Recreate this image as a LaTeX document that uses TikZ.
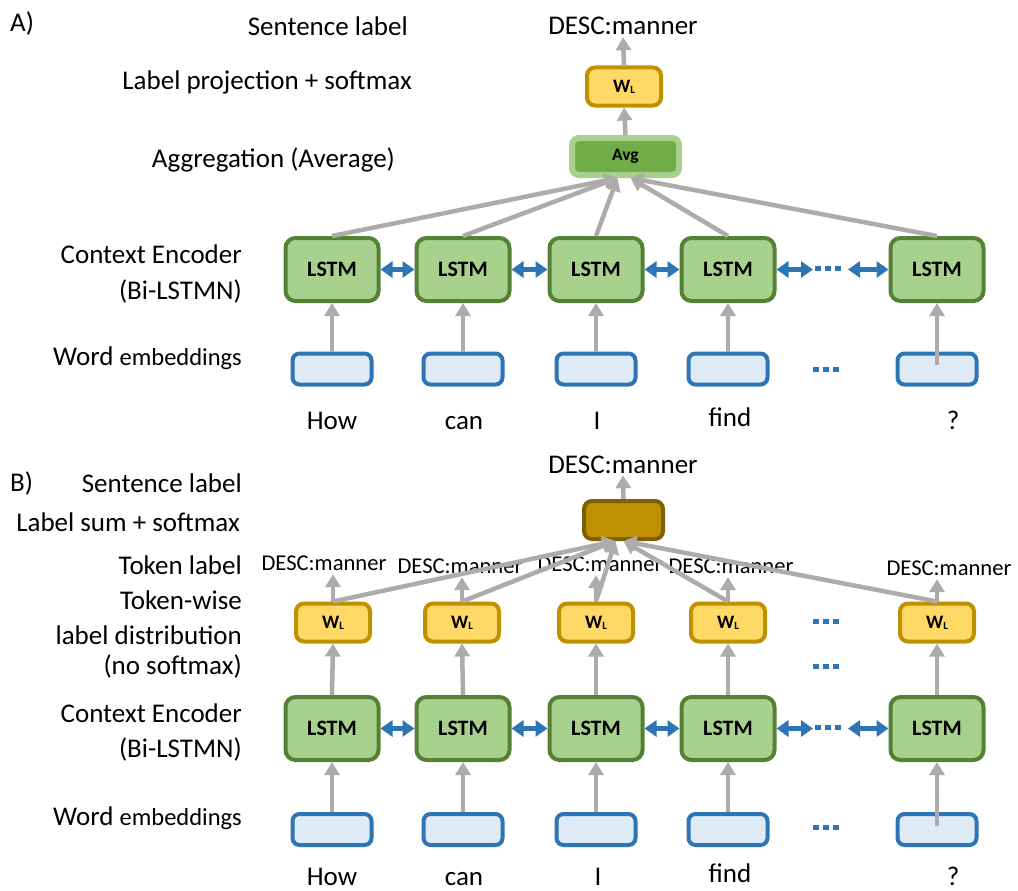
\documentclass[tikz,border=0pt]{standalone}
\usepackage{fontspec}
\setmainfont{Carlito}
\usetikzlibrary{arrows.meta,calc}

\definecolor{lstmfill}{HTML}{A9D18E}
\definecolor{lstmline}{HTML}{548235}
\definecolor{embfill}{HTML}{DEEBF7}
\definecolor{blueline}{HTML}{2E75B6}
\definecolor{wlfill}{HTML}{FFD966}
\definecolor{wlline}{HTML}{BF9000}
\definecolor{avgfill}{HTML}{70AD47}
\definecolor{sumfill}{HTML}{BF9000}
\definecolor{sumline}{HTML}{7F6000}
\definecolor{arrowgray}{HTML}{AEABAB}

\newcommand{\wlabel}{{\fontsize{19}{19}\selectfont\bfseries W\raisebox{-1pt}{\fontsize{11}{11}\selectfont L}}}

\begin{document}
\begin{tikzpicture}[x=1pt,y=-1pt,
  lstmbox/.style={draw=lstmline, fill=lstmfill, line width=4pt, rounded corners=10pt,
    minimum width=93pt, minimum height=63pt, inner sep=0pt,
    font=\fontsize{22}{22}\selectfont\bfseries},
  embbox/.style={draw=blueline, fill=embfill, line width=4pt, rounded corners=7pt,
    minimum width=79pt, minimum height=31pt, inner sep=0pt},
  wlbox/.style={draw=wlline, fill=wlfill, line width=4pt, rounded corners=8pt,
    minimum width=74pt, minimum height=38pt, inner sep=0pt},
  avgbox/.style={draw=lstmfill, fill=avgfill, line width=6pt, rounded corners=7pt,
    minimum width=107pt, minimum height=37pt, inner sep=0pt,
    font=\fontsize{17.5}{17.5}\selectfont\bfseries},
  sumbox/.style={draw=sumline, fill=sumfill, line width=4pt, rounded corners=8pt,
    minimum width=79pt, minimum height=38pt, inner sep=0pt},
  upar/.style={draw=arrowgray, line width=4.5pt, -{Triangle[width=15pt,length=13pt]}},
  bidir/.style={draw=blueline, line width=5pt,
    {Triangle[width=16pt,length=12pt]}-{Triangle[width=16pt,length=12pt]}},
  dotrow/.style={draw=blueline, line width=5pt, dash pattern=on 6pt off 4pt},
  sidelab/.style={anchor=base east, inner sep=0pt, font=\fontsize{27}{30}\selectfont},
  panellab/.style={anchor=base west, inner sep=0pt, font=\fontsize{27}{30}\selectfont},
  word/.style={anchor=base, inner sep=0pt, font=\fontsize{27}{30}\selectfont},
  outlab/.style={anchor=base, inner sep=0pt, outer sep=2pt, font=\fontsize{27}{30}\selectfont},
  toklab/.style={anchor=base, inner sep=0pt, outer sep=4pt, font=\fontsize{22.6}{25}\selectfont}
]
\useasboundingbox (0,0) rectangle (1018,891);

% ---------------- Panel A: average of LSTM states ----------------
\node[panellab] (pA) at (10,32) {A)};
\node[sidelab] (sA1) at (408,36) {Sentence label};
\node[sidelab] (sA2) at (412,90) {Label projection + softmax};
\node[sidelab] (sA3) at (395,167) {Aggregation (Average)};
\node[sidelab] (sA4) at (242,263) {Context Encoder};
\node[sidelab] (sA5) at (242,299) {(Bi-LSTMN)};
\node[sidelab] (sA6) at (242,365) {Word {\fontsize{24.5}{27}\selectfont embeddings}};

\node[outlab] (topA) at (623,35) {DESC:manner};
\node[wlbox] (wa) at (624,86.5) {\wlabel};
\node[avgbox] (avg) at (625.5,156.5) {Avg};

\foreach \i/\x in {1/332,2/463,3/596,4/728,5/937}{
  \node[lstmbox] (la\i) at (\x,269.5) {LSTM};
  \node[embbox] (ea\i) at (\x,369) {};
}
\node[word] (wA1) at (332,429) {How};
\node[word] (wA2) at (464,429) {can};
\node[word] (wA3) at (597,429) {I};
\node[word] (wA4) at (730,426) {find};
\node[word] (wA5) at (953,429) {?};

\draw[upar] (wa.north) -- (topA.south);
\draw[upar] (avg.north) -- (wa.south);
\foreach \i in {1,2,3,4}{
  \draw[upar] (ea\i.north) -- (la\i.south);
}
\draw[upar] ($(ea5.center)+(0,-4)$) -- (la5.south);
\foreach \i in {1,2,3}{
  \draw[upar] (la\i.north) -- ($(avg.south)+(-8,0)$);
}
\foreach \i in {4,5}{
  \draw[upar] (la\i.north) -- ($(avg.south)+(5,0)$);
}

\draw[bidir] (la1.east) -- (la2.west);
\draw[bidir] (la2.east) -- (la3.west);
\draw[bidir] (la3.east) -- (la4.west);
\coordinate (ga1) at (813,269.5);
\coordinate (ga2) at (848,269.5);
\draw[bidir] (la4.east) -- (ga1);
\draw[bidir] (ga2) -- (la5.west);
\draw[dotrow] (815,268.5) -- (841,268.5);
\draw[dotrow] (813,369) -- (839,369);

% ---------------- Panel B: sum of token-wise label scores ----------------
\node[panellab] (pB) at (10,491) {B)};
\node[sidelab] (sB1) at (242,492) {Sentence label};
\node[sidelab] (sB2) at (240,531) {Label sum + softmax};
\node[sidelab] (sB3) at (242,574) {Token label};
\node[sidelab] (sB4) at (242,609) {Token-wise};
\node[sidelab] (sB5) at (242,644) {label distribution};
\node[sidelab] (sB6) at (242,674) {(no softmax)};
\node[sidelab] (sB7) at (242,722) {Context Encoder};
\node[sidelab] (sB8) at (242,757) {(Bi-LSTMN)};
\node[sidelab] (sB9) at (242,825) {Word {\fontsize{24.5}{27}\selectfont embeddings}};

\node[outlab] (topB) at (623,473) {DESC:manner};
\node[sumbox] (sb) at (623.5,520) {};

\foreach \i/\x in {1/333,2/462,3/596,4/728,5/937}{
  \node[wlbox] (wb\i) at (\x,622.5) {\wlabel};
}
\foreach \i/\x in {1/332,2/463,3/596,4/728,5/937}{
  \node[lstmbox] (lb\i) at (\x,728.5) {LSTM};
  \node[embbox] (eb\i) at (\x,829.5) {};
}
\node[toklab] (t1) at (324,570) {DESC:manner};
\node[toklab] (t2) at (460,573) {DESC:manner};
\node[toklab] (t3) at (600,571) {DESC:manner};
\node[toklab] (t4) at (731,573) {DESC:manner};
\node[toklab] (t5) at (949,575) {DESC:manner};

\node[word] (wB1) at (332,885) {How};
\node[word] (wB2) at (464,885) {can};
\node[word] (wB3) at (598,885) {I};
\node[word] (wB4) at (730,882) {find};
\node[word] (wB5) at (953,885) {?};

\draw[upar] (sb.north) -- (topB.south);
\foreach \i in {1,2,3,4,5}{
  \draw[upar] (wb\i.north) -- (wb\i.north |- t\i.south);
  \draw[upar] (lb\i.north) -- (wb\i.south);
}
\foreach \i in {1,2,3,4}{
  \draw[upar] (eb\i.north) -- (lb\i.south);
}
\draw[upar] ($(eb5.center)+(0,-4)$) -- (lb5.south);
\foreach \i in {1,2,3}{
  \draw[upar] (wb\i.north) -- ($(sb.south)+(-8,0)$);
}
\foreach \i in {4,5}{
  \draw[upar] (wb\i.north) -- ($(sb.south)+(0,0)$);
}

\draw[bidir] (lb1.east) -- (lb2.west);
\draw[bidir] (lb2.east) -- (lb3.west);
\draw[bidir] (lb3.east) -- (lb4.west);
\coordinate (gb1) at (813,728.5);
\coordinate (gb2) at (848,728.5);
\draw[bidir] (lb4.east) -- (gb1);
\draw[bidir] (gb2) -- (lb5.west);
\draw[dotrow] (815,727.5) -- (841,727.5);
\draw[dotrow] (813,621) -- (839,621);
\draw[dotrow] (813,666) -- (839,666);
\draw[dotrow] (813,827) -- (839,827);
\end{tikzpicture}
\end{document}
